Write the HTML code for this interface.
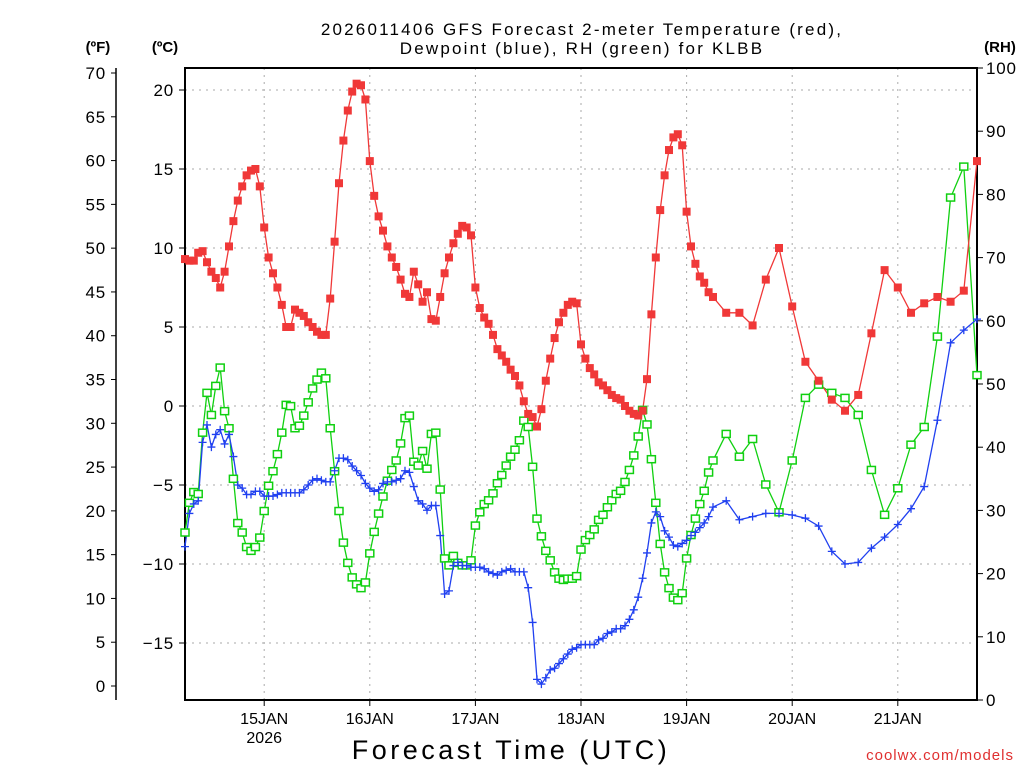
<!DOCTYPE html>
<html><head><meta charset="utf-8"><style>
body{margin:0;background:#fff;}
svg{display:block;font-family:"Liberation Sans","DejaVu Sans",sans-serif;}
</style></head><body>
<svg id="chart" width="1024" height="768" viewBox="0 0 1024 768" xmlns="http://www.w3.org/2000/svg">
<rect width="1024" height="768" fill="#fff"/>
<text x="582" y="35" font-size="17" text-anchor="middle" letter-spacing="2.2">2026011406 GFS Forecast 2-meter Temperature (red),</text>
<text x="582" y="54" font-size="17" text-anchor="middle" letter-spacing="2.2">Dewpoint (blue), RH (green) for KLBB</text>
<text x="98" y="52" font-size="15" font-weight="bold" text-anchor="middle">(ºF)</text>
<text x="165" y="52" font-size="15" font-weight="bold" text-anchor="middle">(ºC)</text>
<text x="1000" y="52" font-size="15" font-weight="bold" text-anchor="middle">(RH)</text>
<text x="511" y="759" font-size="27" text-anchor="middle" letter-spacing="3.5">Forecast Time (UTC)</text>
<text x="1014" y="760" font-size="15" fill="#e03030" text-anchor="end" letter-spacing="1">coolwx.com/models</text>
<g id="grid"></g><g id="axes"></g><g id="series"></g>
</svg>
<script>
const hours = [];
for (let h = 0; h <= 120; h++) hours.push(h);
for (let h = 123; h <= 180; h += 3) hours.push(h);
const tempC = [9.3,9.2,9.2,9.7,9.8,9.1,8.5,8.1,7.5,8.5,
10.1,11.7,13.0,13.9,14.6,14.9,15.0,13.9,11.3,9.4,
8.4,7.5,6.4,5.0,5.0,6.1,5.9,5.7,5.3,5.0,
4.7,4.5,4.5,6.8,10.4,14.1,16.8,18.7,19.9,20.4,
20.3,19.4,15.5,13.3,12.0,11.1,10.1,9.4,8.8,8.0,
7.1,6.9,8.5,7.7,6.6,7.2,5.5,5.4,6.9,8.4,
9.4,10.3,10.9,11.4,11.3,10.8,7.5,6.2,5.6,5.2,
4.5,3.6,3.2,2.8,2.3,1.9,1.3,0.3,-0.5,-0.7,
-1.3,-0.2,1.6,3.0,4.3,5.3,5.9,6.4,6.6,6.5,
3.9,3.0,2.4,2.0,1.5,1.3,1.0,0.7,0.5,0.4,
0.0,-0.3,-0.5,-0.6,-0.3,1.7,5.8,9.4,12.4,14.6,
16.2,17.0,17.2,16.5,12.3,10.1,9.0,8.2,7.8,7.2,
6.9,
5.9,5.9,5.1,8.0,10.0,6.3,2.8,1.6,0.4,-0.3,
0.7,4.6,8.6,7.5,5.9,6.5,6.9,6.6,7.3,15.5];
const dewC = [-8.9,-6.8,-6.2,-6.0,-2.3,-1.2,-2.6,-1.8,-1.5,-2.4,
-1.8,-3.2,-5.0,-5.2,-5.6,-5.6,-5.4,-5.4,-5.7,-5.7,
-5.7,-5.6,-5.5,-5.5,-5.5,-5.5,-5.5,-5.3,-5.0,-4.7,
-4.6,-4.7,-4.8,-4.8,-4.1,-3.3,-3.3,-3.4,-3.8,-4.1,
-4.4,-4.9,-5.2,-5.4,-5.3,-4.9,-4.8,-4.8,-4.7,-4.6,
-4.1,-4.2,-5.1,-6.0,-6.2,-6.6,-6.3,-6.3,-8.2,-11.9,
-11.7,-10.1,-9.9,-10.1,-10.1,-10.2,-10.2,-10.2,-10.3,-10.5,
-10.6,-10.7,-10.5,-10.4,-10.3,-10.5,-10.5,-10.5,-11.5,-13.7,
-17.3,-17.6,-17.2,-16.7,-16.6,-16.3,-16.0,-15.7,-15.4,-15.3,
-15.1,-15.1,-15.1,-15.1,-14.8,-14.7,-14.4,-14.3,-14.1,-14.1,
-13.9,-13.5,-12.9,-12.1,-10.9,-9.3,-7.4,-6.7,-7.0,-7.9,
-8.3,-8.8,-8.9,-8.7,-8.5,-8.2,-8.0,-7.7,-7.4,-7.0,
-6.4,
-6.0,-7.2,-7.0,-6.8,-6.8,-6.9,-7.1,-7.6,-9.2,-10.0,
-9.9,-9.0,-8.3,-7.5,-6.5,-5.1,-0.9,4.0,4.8,5.5];
const rhPct = [26.5,31.2,32.9,32.6,42.3,48.6,45.1,49.7,52.6,45.7,
43.0,35.0,28.0,26.5,24.2,23.6,24.2,25.7,29.9,33.9,
36.2,38.9,42.3,46.7,46.5,43.0,43.4,45.0,47.1,49.3,
50.7,51.8,50.9,43.0,36.2,29.9,24.9,21.7,19.4,18.3,
17.7,18.6,23.2,26.6,29.5,32.2,34.7,36.4,37.9,40.6,
44.6,45.0,37.7,37.1,39.4,36.6,42.1,42.3,33.3,22.4,
21.3,22.8,21.7,21.3,21.3,22.1,27.6,29.7,31.0,31.6,
32.7,34.3,35.6,37.1,38.5,39.6,41.1,44.2,43.2,36.9,
28.7,25.9,23.6,22.1,20.2,19.2,19.0,19.2,19.2,19.6,
23.8,25.3,26.1,27.0,28.5,29.3,30.5,31.6,32.6,33.1,
34.5,36.4,38.7,41.7,45.9,43.6,38.1,31.2,24.7,20.2,
17.7,16.2,15.8,16.9,22.4,26.1,28.7,31.0,33.1,36.0,
37.9,
42.1,38.5,41.3,34.1,29.7,37.9,47.8,49.9,48.6,47.8,
45.1,36.4,29.3,33.5,40.4,43.2,57.5,79.5,84.4,51.4];
const dayLabels = ["15JAN","16JAN","17JAN","18JAN","19JAN","20JAN","21JAN"];
const dayHours = [18,42,66,90,114,138,162];
const cTicks = [20,15,10,5,0,-5,-10,-15];
const fTicks = [70,65,60,55,50,45,40,35,30,25,20,15,10,5,0];
const rhTicks = [100,90,80,70,60,50,40,30,20,10,0];

const NS = "http://www.w3.org/2000/svg";
const L = 185, R = 977, T = 68, B = 700;
const xS = h => L + (R - L) * h / 180;
const yC = c => 406 - c * 15.8;
const yF = f => 686 - f * 8.757;
const yRH = r => B - (B - T) * r / 100;
function mk(tag, attrs, parent) {
  const e = document.createElementNS(NS, tag);
  for (const k in attrs) e.setAttribute(k, attrs[k]);
  parent.appendChild(e);
  return e;
}
const grid = document.getElementById('grid');
const axes = document.getElementById('axes');
const series = document.getElementById('series');

cTicks.forEach(c => {
  const y = yC(c);
  const g = mk('line', {x1: L, x2: R, y1: y, y2: y, stroke: '#aaa', 'stroke-dasharray': '2,5'}, grid);
  
  
  const t = mk('line', {x1: L - 6, x2: L, y1: y, y2: y, stroke: '#000'}, axes);
  
  
  const lb = mk('text', {x: 174, y: y + 6, 'font-size': 17, 'text-anchor': 'end', 'letter-spacing': 0.8}, axes);
  lb.textContent = c < 0 ? '\u2212' + Math.abs(c) : String(c);
  
  
});
dayHours.forEach((h, i) => {
  const x = xS(h);
  const g = mk('line', {x1: x, x2: x, y1: T, y2: B, stroke: '#aaa', 'stroke-dasharray': '2,5'}, grid);
  
  
  const t = mk('line', {x1: x, x2: x, y1: B, y2: B + 6, stroke: '#000'}, axes);
  
  
  const lb = mk('text', {x: x, y: 724, 'font-size': 16, 'text-anchor': 'middle'}, axes);
  lb.textContent = dayLabels[i];
  
  
});
const yr = mk('text', {x: xS(18), y: 743, 'font-size': 16, 'text-anchor': 'middle'}, axes);
yr.textContent = '2026';



const fAxis = mk('line', {x1: 116, x2: 116, y1: T, y2: B, stroke: '#000', 'stroke-width': 1.5}, axes);


fTicks.forEach(f => {
  const y = yF(f);
  const t = mk('line', {x1: 111, x2: 116, y1: y, y2: y, stroke: '#000'}, axes);
  
  
  const lb = mk('text', {x: 106, y: y + 6, 'font-size': 17, 'text-anchor': 'end', 'letter-spacing': 0.8}, axes);
  lb.textContent = String(f);
  
  
});
rhTicks.forEach(r => {
  const y = yRH(r);
  const t = mk('line', {x1: R, x2: R + 6, y1: y, y2: y, stroke: '#000'}, axes);
  
  
  const lb = mk('text', {x: 986, y: y + 6, 'font-size': 17, 'text-anchor': 'start', 'letter-spacing': 0.8}, axes);
  lb.textContent = String(r);
  
  
});
const frame = mk('rect', {x: L, y: T, width: R - L, height: B - T, fill: 'none', stroke: '#000', 'stroke-width': 2}, axes);



function drawLine(vals, yFn, color, name) {
  const pts = vals.map((v, i) => xS(hours[i]).toFixed(1) + ',' + yFn(v).toFixed(1)).join(' ');
  const pl = mk('polyline', {points: pts, fill: 'none', stroke: color, 'stroke-width': 1.3}, series);
  
  
}
drawLine(rhPct, yRH, '#10d010', 'rh');
drawLine(dewC, yC, '#2040f0', 'dewpoint');
drawLine(tempC, yC, '#f03838', 'temperature');
rhPct.forEach((v, i) => {
  const m = mk('rect', {x: xS(hours[i]) - 4, y: yRH(v) - 3.5, width: 8, height: 7, fill: '#fff', stroke: '#10d010', 'stroke-width': 1.5}, series);
  
  
});
dewC.forEach((v, i) => {
  const x = xS(hours[i]), y = yC(v);
  const m = mk('path', {d: `M${x-4},${y}H${x+4}M${x},${y-4}V${y+4}`, stroke: '#2040f0', 'stroke-width': 1.3}, series);
  
  
});
tempC.forEach((v, i) => {
  const m = mk('rect', {x: xS(hours[i]) - 4, y: yC(v) - 4, width: 8, height: 8, fill: '#f03838'}, series);
  
  
});
</script>
</body></html>
